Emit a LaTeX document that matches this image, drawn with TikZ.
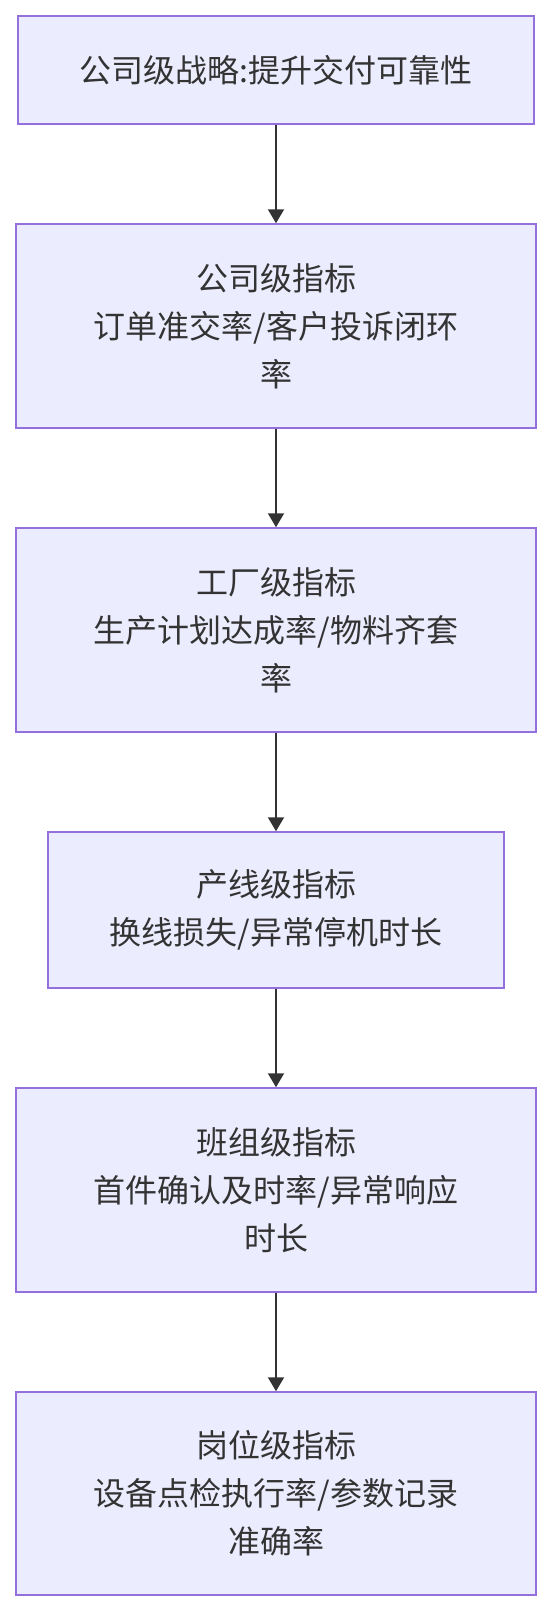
\documentclass[tikz,border=0pt]{standalone}
\usepackage{fontspec}
\newfontfamily\cjk{Noto Sans CJK SC}
\usetikzlibrary{arrows.meta}
\definecolor{boxfill}{HTML}{ECECFF}
\definecolor{boxline}{HTML}{9370DB}
\definecolor{txt}{HTML}{333333}
\tikzset{
  box/.style={draw=boxline, fill=boxfill, line width=1.5pt, rectangle, align=center,
    text=txt, inner sep=0pt, font=\cjk\fontsize{32}{48}\selectfont},
  conn/.style={draw=txt, line width=2pt, -{Triangle[length=14pt,width=16pt]}}
}
\begin{document}
\begin{tikzpicture}[x=1pt,y=-1pt]
\useasboundingbox (0,0) rectangle (552,1612);
\node[box, minimum width=516pt, minimum height=108pt] (a) at (276,70) {公司级战略:提升交付可靠性};
\node[box, minimum width=520pt, minimum height=204pt] (b) at (276,326) {公司级指标\\订单准交率/客户投诉闭环\\率};
\node[box, minimum width=520pt, minimum height=204pt] (c) at (276,630) {工厂级指标\\生产计划达成率/物料齐套\\率};
\node[box, minimum width=456pt, minimum height=156pt] (d) at (276,910) {产线级指标\\换线损失/异常停机时长};
\node[box, minimum width=520pt, minimum height=204pt] (e) at (276,1190) {班组级指标\\首件确认及时率/异常响应\\时长};
\node[box, minimum width=520pt, minimum height=203pt] (f) at (276,1493.5) {岗位级指标\\设备点检执行率/参数记录\\准确率};
\draw[conn] (a.south) -- (b.north);
\draw[conn] (b.south) -- (c.north);
\draw[conn] (c.south) -- (d.north);
\draw[conn] (d.south) -- (e.north);
\draw[conn] (e.south) -- (f.north);
\end{tikzpicture}
\end{document}
